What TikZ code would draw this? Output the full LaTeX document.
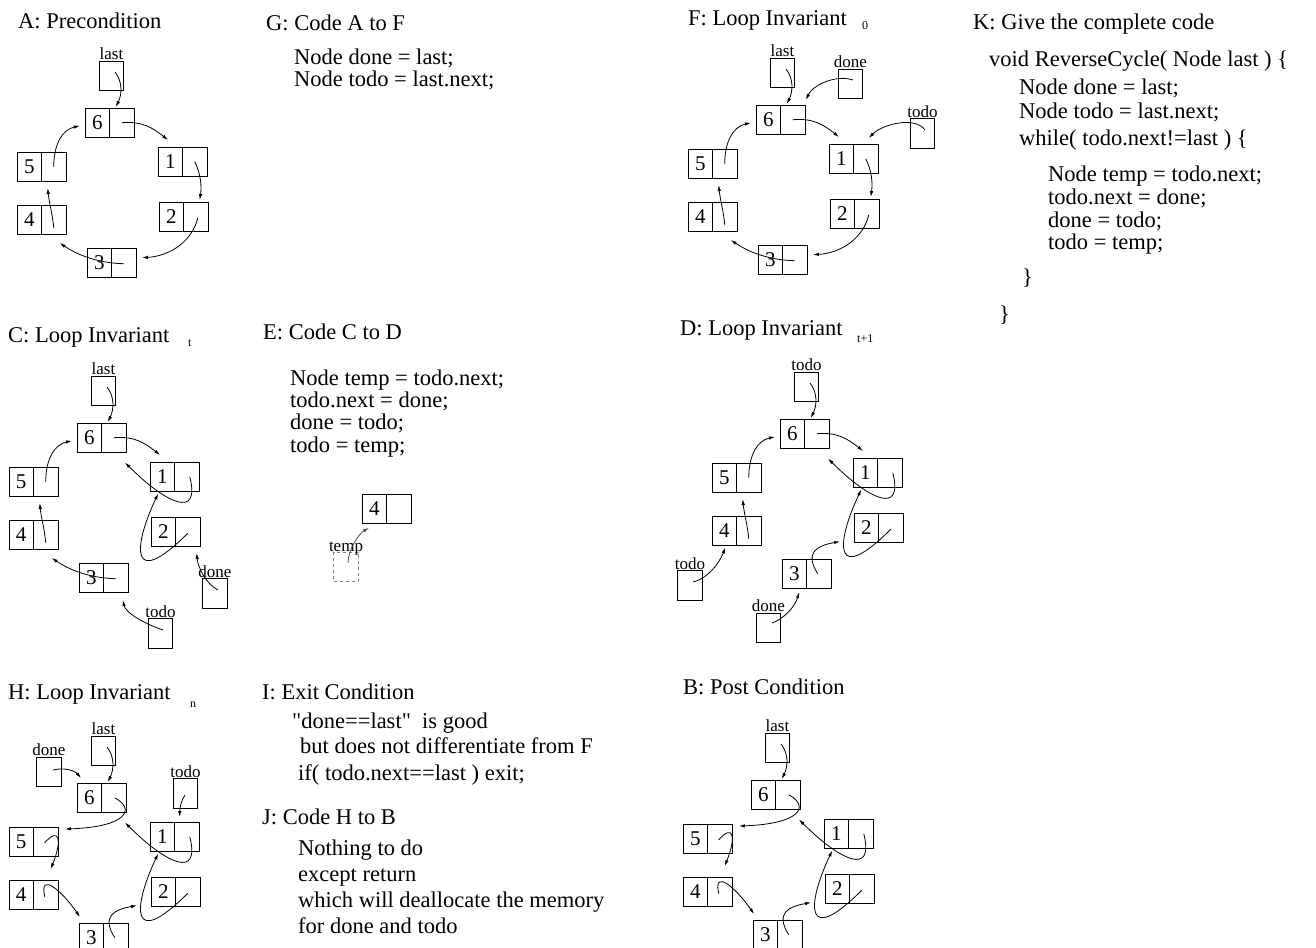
\documentclass[tikz,border=0pt]{standalone}
\usepackage{fontspec}
\setmainfont{Liberation Serif}[Ligatures=TeXOff]
\usetikzlibrary{arrows.meta, positioning}

\newcommand{\ListNode}[3]{%
  \node[cell] (#1) at (#2) {#3};
  \node[cell, right=0pt of #1] (#1p) {};
}
\newcommand{\PtrBox}[3]{%
  \node[cell] (#1) at (#2) {};
  \node[lbl, above=1pt of #1] (#1l) {#3};
}
\newcommand{\Ring}[1]{%
  \ListNode{#16}{97.25,122.75}{6}
  \ListNode{#11}{170.25,161.75}{1}
  \ListNode{#12}{171.25,216.75}{2}
  \ListNode{#13}{99.25,262.75}{3}
  \ListNode{#14}{29.25,219.75}{4}
  \ListNode{#15}{29.25,166.75}{5}
}
\tikzset{
    cell/.style={draw, line width=0.8pt, minimum width=24.5pt, minimum height=29.5pt,
      inner sep=0pt, outer sep=0pt, font=\fontsize{21}{21}\selectfont},
    lbl/.style={inner sep=0pt, font=\fontsize{17}{17}\selectfont},
    link/.style={-{Latex[length=6pt,width=3.5pt]}, line width=0.8pt},
    txt/.style={anchor=base west, inner sep=0pt, font=\fontsize{22.5}{27}\selectfont},
    subtxt/.style={anchor=base west, inner sep=0pt, font=\fontsize{12}{12}\selectfont},
}

\begin{document}
\begin{tikzpicture}[x=1pt, y=-1pt]
    \useasboundingbox (0,0) rectangle (1316,947);
    \clip (0,0) rectangle (1316,947);

    % A: precondition
    \node[txt] (Ahead) at (18,29) {A: Precondition};
    \begin{scope}[shift={(0,0)}]
      \PtrBox{Alast}{111.5,76}{last}
      \Ring{A}
      \draw[link] ([shift={(3.5,-4)}]Alast.center) .. controls +(8,10) and +(6,-12) .. ([shift={(-6,-1)}]A6p.north);
      \draw[link] (A6p.center) .. controls +(20,-2) and +(-15,-12) .. ([shift={(10,-7)}]A1.north west);
      \draw[link] (A1p.center) .. controls +(6,12) and +(2,-14) .. ([shift={(4,-2)}]A2p.north);
      \draw[link] ([shift={(2,1)}]A2p.center) .. controls +(-5,22) and +(30,-2) .. ([shift={(6,-5)}]A3p.east);
      \draw[link] ([shift={(0,1)}]A3p.center) .. controls +(-30,-1) and +(15,10) .. ([shift={(6,8.5)}]A4p.south);
      \draw[link] ([shift={(0,8)}]A4p.center) .. controls +(-1,-12) and +(1,12) .. ([shift={(-6,6.5)}]A5p.south);
      \draw[link] (A5p.center) .. controls +(0,-22) and +(-18,4) .. ([shift={(-5,3)}]A6.west);
    \end{scope}

    % G: code A to F
    \node[txt] (Ghead) at (266,31) {G: Code A to F};
    \node[txt] (Gl1) at (294,65) {Node done = last;};
    \node[txt] (Gl2) at (294,87) {Node todo = last.next;};

    % F: loop invariant 0
    \node[txt] (Fhead) at (688,26) {F: Loop Invariant};
    \node[subtxt] (Fsub) at (862,30) {0};
    \begin{scope}[shift={(671,-3)}]
      \PtrBox{Flast}{111.5,76}{last}
      \PtrBox{Fdone}{179.5,87}{done}
      \PtrBox{Ftodo}{251.5,136.5}{todo}
      \Ring{F}
      \draw[link] ([shift={(3.5,-4)}]Flast.center) .. controls +(8,10) and +(6,-12) .. ([shift={(-6,-1)}]F6p.north);
      \draw[link] ([shift={(2.5,-4)}]Fdone.center) .. controls +(-18,-6) and +(6,-14) .. ([shift={(1,-5)}]F6p.north east);
      \draw[link] ([shift={(2.5,-3.5)}]Ftodo.center) .. controls +(-10,-14) and +(14,-14) .. ([shift={(3,-6)}]F1p.north);
      \draw[link] (F6p.center) .. controls +(20,-2) and +(-15,-12) .. ([shift={(10,-7)}]F1.north west);
      \draw[link] (F1p.center) .. controls +(6,12) and +(2,-14) .. ([shift={(4,-2)}]F2p.north);
      \draw[link] ([shift={(2,1)}]F2p.center) .. controls +(-5,22) and +(30,-2) .. ([shift={(6,-5)}]F3p.east);
      \draw[link] ([shift={(0,1)}]F3p.center) .. controls +(-30,-1) and +(15,10) .. ([shift={(6,8.5)}]F4p.south);
      \draw[link] ([shift={(0,8)}]F4p.center) .. controls +(-1,-12) and +(1,12) .. ([shift={(-6,6.5)}]F5p.south);
      \draw[link] (F5p.center) .. controls +(0,-22) and +(-18,4) .. ([shift={(-5,3)}]F6.west);
    \end{scope}

    % K: complete code
    \node[txt] (Khead) at (973,30) {K: Give the complete code};
    \node[txt] (Kl1) at (989,67) {void ReverseCycle( Node last ) \{};
    \node[txt] (Kl2) at (1019,95) {Node done = last;};
    \node[txt] (Kl3) at (1019,118) {Node todo = last.next;};
    \node[txt] (Kl4) at (1019,146) {while( todo.next!=last ) \{};
    \node[txt] (Kl5) at (1048,181) {Node temp = todo.next;};
    \node[txt] (Kl6) at (1048,204) {todo.next = done;};
    \node[txt] (Kl7) at (1048,227) {done = todo;};
    \node[txt] (Kl8) at (1048,249) {todo = temp;};
    \node[txt] (Kl9) at (1022,284) {\}};
    \node[txt] (Kl10) at (999,321) {\}};

    % C: loop invariant t
    \node[txt] (Chead) at (8,342) {C: Loop Invariant};
    \node[subtxt] (Csub) at (188,346) {t};
    \begin{scope}[shift={(-8,315)}]
      \PtrBox{Clast}{111.5,76}{last}
      \PtrBox{Cdone}{223,278.5}{done}
      \PtrBox{Ctodo}{168.5,318.5}{todo}
      \Ring{C}
      \draw[link] ([shift={(3.5,-4)}]Clast.center) .. controls +(8,10) and +(6,-12) .. ([shift={(-6,-1)}]C6p.north);
      \draw[link] (C6p.center) .. controls +(20,-2) and +(-15,-12) .. ([shift={(10,-7)}]C1.north west);
      \draw[link] ([shift={(3,0)}]C1p.center) .. controls +(11,43) and +(41,41) .. ([shift={(-1,10)}]C6p.south east);
      \draw[link] ([shift={(0,1.5)}]C2p.center) .. controls +(-57,57) and +(-26,55) .. ([shift={(-4,2)}]C1.south);
      \draw[link] ([shift={(3,-3.5)}]Cdone.center) .. controls +(-12,-6) and +(1,14) .. ([shift={(9,6.5)}]C2p.south);
      \draw[link] ([shift={(2.5,-3.5)}]Ctodo.center) .. controls +(-18,-6) and +(3,13) .. ([shift={(7,7.5)}]C3p.south);
      \draw[link] ([shift={(0,1)}]C3p.center) .. controls +(-30,-1) and +(15,10) .. ([shift={(6,8.5)}]C4p.south);
      \draw[link] ([shift={(0,8)}]C4p.center) .. controls +(-1,-12) and +(1,12) .. ([shift={(-6,6.5)}]C5p.south);
      \draw[link] (C5p.center) .. controls +(0,-22) and +(-18,4) .. ([shift={(-5,3)}]C6.west);
    \end{scope}

    % E: code C to D
    \node[txt] (Ehead) at (263,339) {E: Code C to D};
    \node[txt] (El1) at (290,385) {Node temp = todo.next;};
    \node[txt] (El2) at (290,407) {todo.next = done;};
    \node[txt] (El3) at (290,429) {done = todo;};
    \node[txt] (El4) at (290,452) {todo = temp;};
    \ListNode{E4}{374.25,509}{4}
    \node[cell, draw=gray, dashed] (Etemp) at (346,567) {};
    \node[lbl, above=-3pt of Etemp] (Etempl) {temp};
    \draw[link, gray!60!black] ([shift={(2,-4)}]Etemp.center) .. controls +(0,-14) and +(-10,6) .. ([shift={(7,4)}]E4.south west);

    % D: loop invariant t+1
    \node[txt] (Dhead) at (680,335) {D: Loop Invariant};
    \node[subtxt] (Dsub) at (857,342) {t+1};
    \begin{scope}[shift={(695,311)}]
      \PtrBox{Dtop}{111.5,76}{todo}
      \PtrBox{Dtodo}{-5,274.5}{todo}
      \PtrBox{Ddone}{73.5,317}{done}
      \Ring{D}
      \draw[link] ([shift={(3.5,-4)}]Dtop.center) .. controls +(8,10) and +(6,-12) .. ([shift={(-6,-1)}]D6p.north);
      \draw[link] (D6p.center) .. controls +(20,-2) and +(-15,-12) .. ([shift={(10,-7)}]D1.north west);
      \draw[link] ([shift={(3,0)}]D1p.center) .. controls +(11,43) and +(41,41) .. ([shift={(-1,10)}]D6p.south east);
      \draw[link] ([shift={(0,1.5)}]D2p.center) .. controls +(-57,57) and +(-26,55) .. ([shift={(-4,2)}]D1.south);
      \draw[link] ([shift={(-1,0)}]D3p.center) .. controls +(-14,-22) and +(-22,4) .. ([shift={(-14,-1)}]D2.south west);
      \draw[link] ([shift={(3.5,-5)}]Ddone.center) .. controls +(12,-4) and +(-4,14) .. ([shift={(5,3.5)}]D3.south);
      \draw[link] ([shift={(3,-3.5)}]Dtodo.center) .. controls +(14,-3) and +(-6,16) .. ([shift={(1,2)}]D4.south);
      \draw[link] ([shift={(0,8)}]D4p.center) .. controls +(-1,-12) and +(1,12) .. ([shift={(-6,6.5)}]D5p.south);
      \draw[link] (D5p.center) .. controls +(0,-22) and +(-18,4) .. ([shift={(-5,3)}]D6.west);
    \end{scope}

    % H: loop invariant n
    \node[txt] (Hhead) at (8,699) {H: Loop Invariant};
    \node[subtxt] (Hsub) at (190,707) {n};
    \begin{scope}[shift={(-8,675)}]
      \PtrBox{Hlast}{111.5,76}{last}
      \PtrBox{Hdone}{57,97}{done}
      \PtrBox{Htodo}{193.5,118.5}{todo}
      \Ring{H}
      \draw[link] ([shift={(3.5,-4)}]Hlast.center) .. controls +(8,10) and +(6,-12) .. ([shift={(-6,-1)}]H6p.north);
      \draw[link] ([shift={(4,-2)}]Hdone.center) .. controls +(12,-3) and +(-6,-7) .. ([shift={(4,-5)}]H6.north west);
      \draw[link] ([shift={(-0.5,1.5)}]Htodo.center) .. controls +(-4,5) and +(0,-8) .. ([shift={(-7,-5)}]H1p.north);
      \draw[link] ([shift={(1,0)}]H6p.center) .. controls +(22,12) and +(60,-2) .. ([shift={(7,2)}]H5p.north east);
      \draw[link] ([shift={(3,0)}]H1p.center) .. controls +(11,43) and +(41,41) .. ([shift={(-1,10)}]H6p.south east);
      \draw[link] ([shift={(-1,1)}]H5p.center) .. controls +(14,-16) and +(12,-30) .. ([shift={(5,-11)}]H4p.north);
      \draw[link] ([shift={(-1,2)}]H4p.center) .. controls +(-6,-26) and +(-18,-26) .. ([shift={(1,-6)}]H3.north west);
      \draw[link] ([shift={(-1,0)}]H3p.center) .. controls +(-14,-22) and +(-22,4) .. ([shift={(-14,-1)}]H2.south west);
      \draw[link] ([shift={(0,1.5)}]H2p.center) .. controls +(-57,57) and +(-26,55) .. ([shift={(-4,2)}]H1.south);
    \end{scope}

    % I: exit condition, J: code H to B
    \node[txt] (Ihead) at (262,699) {I: Exit Condition};
    \node[txt] (Il1) at (292,728) {"done==last"\ \ is good};
    \node[txt] (Il2) at (300,753) {but does not differentiate from F};
    \node[txt] (Il3) at (298,780) {if( todo.next==last ) exit;};
    \node[txt] (Jhead) at (262,824) {J: Code H to B};
    \node[txt] (Jl1) at (298,855) {Nothing to do};
    \node[txt] (Jl2) at (298,881) {except return};
    \node[txt] (Jl3) at (298,907) {which will deallocate the memory};
    \node[txt] (Jl4) at (298,933) {for done and todo};

    % B: post condition
    \node[txt] (Bhead) at (683,694) {B: Post Condition};
    \begin{scope}[shift={(666,672)}]
      \PtrBox{Blast}{111.5,76}{last}
      \Ring{B}
      \draw[link] ([shift={(3.5,-4)}]Blast.center) .. controls +(8,10) and +(6,-12) .. ([shift={(-6,-1)}]B6p.north);
      \draw[link] ([shift={(1,0)}]B6p.center) .. controls +(22,12) and +(60,-2) .. ([shift={(7,2)}]B5p.north east);
      \draw[link] ([shift={(3,0)}]B1p.center) .. controls +(11,43) and +(41,41) .. ([shift={(-1,10)}]B6p.south east);
      \draw[link] ([shift={(-1,1)}]B5p.center) .. controls +(14,-16) and +(12,-30) .. ([shift={(5,-11)}]B4p.north);
      \draw[link] ([shift={(-1,2)}]B4p.center) .. controls +(-6,-26) and +(-18,-26) .. ([shift={(1,-6)}]B3.north west);
      \draw[link] ([shift={(-1,0)}]B3p.center) .. controls +(-14,-22) and +(-22,4) .. ([shift={(-14,-1)}]B2.south west);
      \draw[link] ([shift={(0,1.5)}]B2p.center) .. controls +(-57,57) and +(-26,55) .. ([shift={(-4,2)}]B1.south);
    \end{scope}

\end{tikzpicture}
\end{document}
